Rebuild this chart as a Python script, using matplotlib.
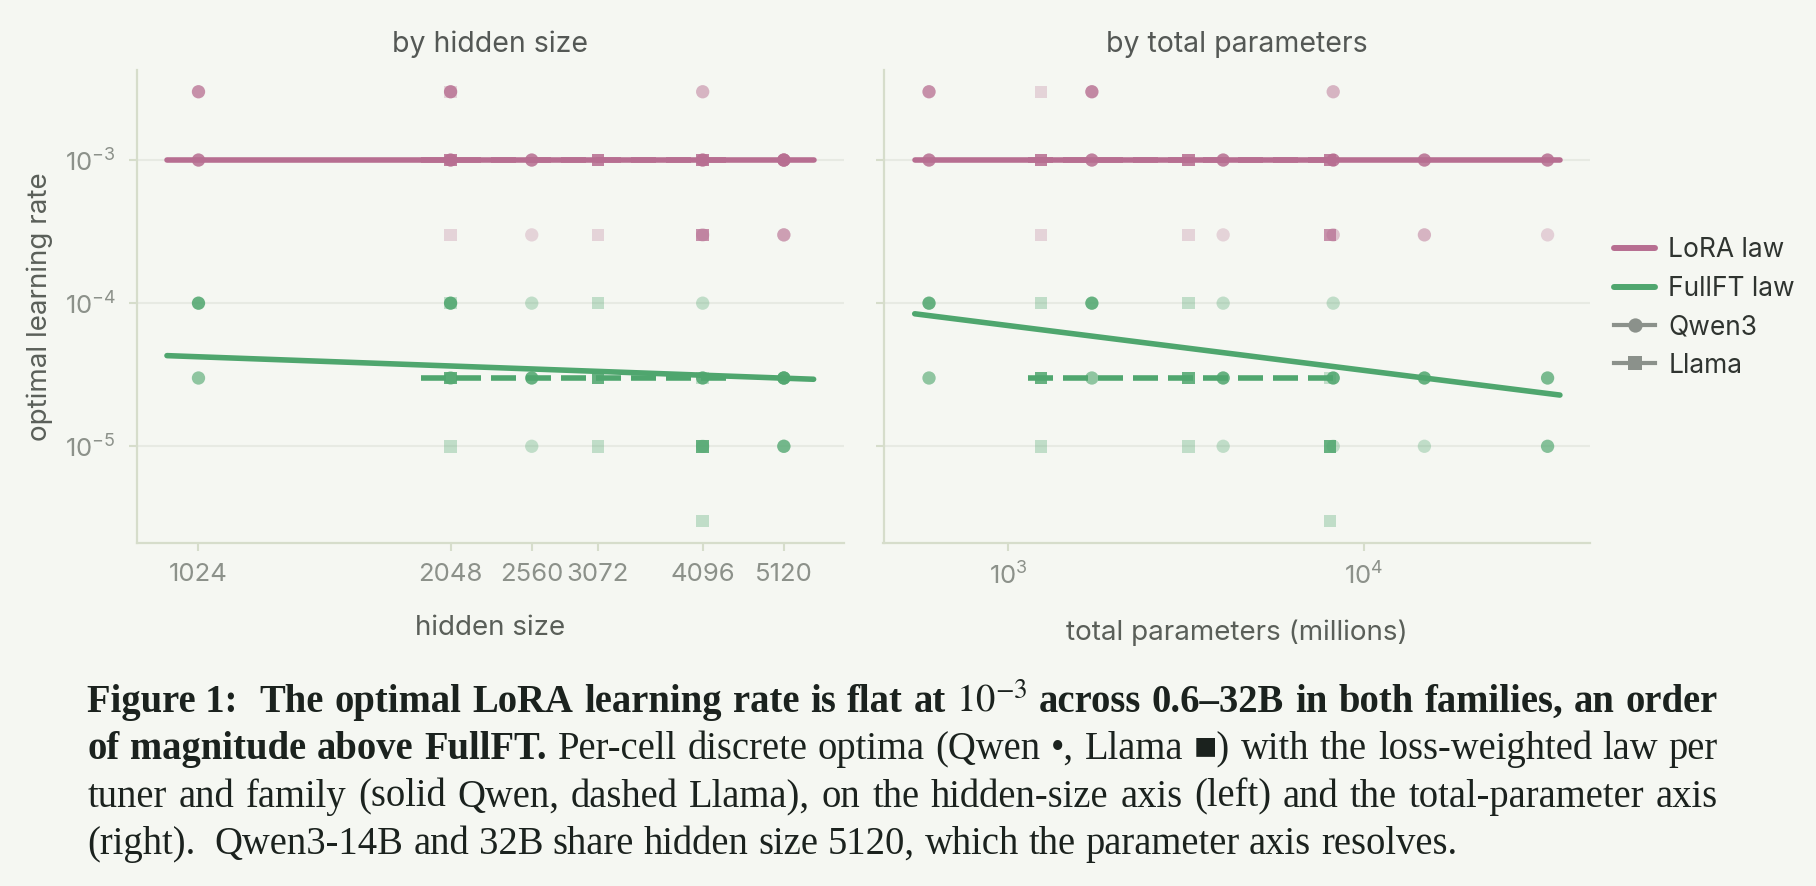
import matplotlib
matplotlib.use("Agg")
import matplotlib.pyplot as plt
from matplotlib.lines import Line2D
import numpy as np

# ---------------- data ----------------
qwen_hidden = [1024, 2048, 2560, 4096, 5120, 5120]
qwen_params = [600, 1720, 4020, 8190, 14770, 32760]      # millions
llama_hidden = [2048, 3072, 4096]
llama_params = [1236, 3213, 8030]                         # millions

# per-cell discrete optima: model index, learning rate, weight (share of cells)
qwen_lora_model = [0, 0, 1, 1, 2, 2, 3, 3, 3, 4, 4, 5, 5]
qwen_lora_lr    = [3e-3, 1e-3, 3e-3, 1e-3, 1e-3, 3e-4, 3e-3, 1e-3, 3e-4, 1e-3, 3e-4, 1e-3, 3e-4]
qwen_lora_w     = [0.80, 0.95, 0.88, 0.95, 0.95, 0.15, 0.45, 0.95, 0.30, 0.95, 0.45, 0.95, 0.18]

qwen_full_model = [0, 0, 1, 1, 2, 2, 2, 3, 3, 3, 4, 4, 5, 5]
qwen_full_lr    = [1e-4, 3e-5, 1e-4, 3e-5, 1e-4, 3e-5, 1e-5, 1e-4, 3e-5, 1e-5, 3e-5, 1e-5, 3e-5, 1e-5]
qwen_full_w     = [0.95, 0.62, 0.95, 0.62, 0.22, 0.95, 0.22, 0.22, 0.95, 0.22, 0.95, 0.22, 0.80, 0.70]

llama_lora_model = [0, 0, 0, 1, 1, 2, 2]
llama_lora_lr    = [3e-3, 1e-3, 3e-4, 1e-3, 3e-4, 1e-3, 3e-4]
llama_lora_w     = [0.15, 0.95, 0.15, 0.95, 0.15, 0.95, 0.78]

llama_full_model = [0, 0, 0, 1, 1, 1, 2, 2, 2]
llama_full_lr    = [1e-4, 3e-5, 1e-5, 1e-4, 3e-5, 1e-5, 3e-5, 1e-5, 3e-6]
llama_full_w     = [0.22, 0.95, 0.22, 0.22, 0.95, 0.22, 0.22, 0.95, 0.22]

# fitted laws (end points)
law_hidden_qwen_x = [939, 5557]
law_hidden_llama_x = [1890, 4380]
law_params_qwen_x = [547, 35480]
law_params_llama_x = [1140, 8500]
lora_law_qwen_hidden_y = [1e-3, 1e-3]
full_law_qwen_hidden_y = [4.3e-5, 2.94e-5]
lora_law_qwen_params_y = [1e-3, 1e-3]
full_law_qwen_params_y = [8.43e-5, 2.28e-5]
lora_law_llama_y = [1e-3, 1e-3]
full_law_llama_y = [3e-5, 3e-5]

hidden_ticks = [1024, 2048, 2560, 3072, 4096, 5120]
param_ticks = [1e3, 1e4]
param_ticklabels = [r"$10^{3}$", r"$10^{4}$"]
lr_ticks = [1e-3, 1e-4, 1e-5]
lr_ticklabels = [r"$10^{-3}$", r"$10^{-4}$", r"$10^{-5}$"]

# ---------------- style ----------------
BG = "#f5f7f2"
PINK = "#b76e91"
GREEN = "#4fa66e"
GRAY = "#8b918b"
SPINE = "#d6ddcb"
GRID = "#e7eae3"
TICKLAB = "#8c918a"
LABEL = "#5a5f59"

plt.rcParams["font.family"] = ["Inter", "DejaVu Sans"]
plt.rcParams["mathtext.fontset"] = "custom"
plt.rcParams["mathtext.rm"] = "Inter"
plt.rcParams["mathtext.it"] = "Inter:italic"
plt.rcParams["mathtext.bf"] = "Inter:bold"

W, H = 1816, 886
fig = plt.figure(figsize=(W / 100, H / 100), dpi=100, facecolor=BG)
ax1 = fig.add_axes([136.7 / W, 1 - 543 / H, (844 - 136.7) / W, (543 - 70.4) / H])
ax2 = fig.add_axes([883.5 / W, 1 - 543 / H, (1589.5 - 883.5) / W, (543 - 70.4) / H], sharey=ax1)

LW = 4.0
DASH = (4.5, 1.8)
TICKFS = 18.5
LABFS = 20


def draw_panel(ax, qx, lx, qlaw_x, llaw_x, lora_q_y, full_q_y):
    ax.set_facecolor(BG)
    ax.set_xscale("log")
    ax.set_yscale("log")
    ax.grid(axis="y", color=GRID, lw=1.5, zorder=0)
    ax.set_axisbelow(True)
    for s in ["top", "right"]:
        ax.spines[s].set_visible(False)
    for s in ["left", "bottom"]:
        ax.spines[s].set_color(SPINE)
        ax.spines[s].set_linewidth(1.6)

    # laws
    ax.plot(llaw_x, lora_law_llama_y, color=PINK, lw=LW, dashes=DASH, zorder=2)
    ax.plot(llaw_x, full_law_llama_y, color=GREEN, lw=LW, dashes=DASH, zorder=2)
    ax.plot(qlaw_x, lora_q_y, color=PINK, lw=LW, solid_capstyle="round", zorder=2)
    ax.plot(qlaw_x, full_q_y, color=GREEN, lw=LW, solid_capstyle="round", zorder=2)

    # points
    def pts(xs, models, lrs, ws, color, marker, size):
        x = [xs[m] for m in models]
        a = [0.15 + 0.75 * w for w in ws]
        cols = [matplotlib.colors.to_rgba(color, aa) for aa in a]
        ax.scatter(x, lrs, s=size, c=cols, marker=marker, linewidths=0, zorder=3)

    pts(lx, llama_lora_model, llama_lora_lr, llama_lora_w, PINK, "s", 80)
    pts(lx, llama_full_model, llama_full_lr, llama_full_w, GREEN, "s", 80)
    pts(qx, qwen_lora_model, qwen_lora_lr, qwen_lora_w, PINK, "o", 92)
    pts(qx, qwen_full_model, qwen_full_lr, qwen_full_w, GREEN, "o", 92)

    ax.tick_params(axis="both", which="major", length=6, width=1.5, color=SPINE,
                   labelcolor=TICKLAB, labelsize=TICKFS)
    ax.tick_params(axis="x", pad=8.3)
    ax.tick_params(axis="y", pad=9)
    ax.tick_params(which="minor", length=0)


draw_panel(ax1, qwen_hidden, llama_hidden, law_hidden_qwen_x, law_hidden_llama_x,
           lora_law_qwen_hidden_y, full_law_qwen_hidden_y)
draw_panel(ax2, qwen_params, llama_params, law_params_qwen_x, law_params_llama_x,
           lora_law_qwen_params_y, full_law_qwen_params_y)

ax1.set_xlim(864, 6041)
ax2.set_xlim(447, 42960)
ax1.set_ylim(2.11e-6, 4.23e-3)

ax1.set_xticks(hidden_ticks)
ax1.set_xticklabels([str(t) for t in hidden_ticks])
ax1.xaxis.set_minor_locator(matplotlib.ticker.NullLocator())
ax2.set_xticks(param_ticks)
ax2.set_xticklabels(param_ticklabels)
ax2.xaxis.set_minor_locator(matplotlib.ticker.NullLocator())
ax1.set_yticks(lr_ticks)
ax1.set_yticklabels(lr_ticklabels)
ax1.yaxis.set_minor_locator(matplotlib.ticker.NullLocator())
ax2.tick_params(axis="y", labelleft=False)

ax1.set_title("by hidden size", fontsize=20.5, color="#545855", pad=13)
ax2.set_title("by total parameters", fontsize=20.5, color="#545855", pad=13)
ax1.set_xlabel("hidden size", fontsize=LABFS, color=LABEL, labelpad=21)
ax2.set_xlabel("total parameters (millions)", fontsize=LABFS, color=LABEL, labelpad=21)
ax1.set_ylabel("optimal learning rate", fontsize=LABFS, color=LABEL, labelpad=8)

LEGFS = 19
handles = [
    Line2D([], [], color=PINK, lw=4.3, solid_capstyle="round"),
    Line2D([], [], color=GREEN, lw=4.3, solid_capstyle="round"),
    Line2D([], [], color=GRAY, lw=3, marker="o", markersize=10.3, markeredgewidth=0),
    Line2D([], [], color=GRAY, lw=3, marker="s", markersize=10.3, markeredgewidth=0),
]
labels = ["LoRA law", "FullFT law", "Qwen3", "Llama"]
fig.legend(handles, labels, loc="center left", bbox_to_anchor=(1613.7 / W, 1 - 308 / H),
           frameon=False, fontsize=LEGFS, handlelength=1.58, handletextpad=0.49,
           labelspacing=0.47, borderpad=0, borderaxespad=0, labelcolor="#2f3430")

# ---------------- caption (justified) ----------------
CAP_COLOR = "#1b221e"
SERIF = ["Liberation Serif", "DejaVu Serif"]
cap_lines = [
    [("Figure 1:", "bold"), ("", "bold"), ("The", "bold"), ("optimal", "bold"), ("LoRA", "bold"),
     ("learning", "bold"), ("rate", "bold"), ("is", "bold"), ("flat", "bold"), ("at", "bold"),
     (r"$10^{-3}$", "bold"), ("across", "bold"), ("0.6–32B", "bold"), ("in", "bold"),
     ("both", "bold"), ("families,", "bold"), ("an", "bold"), ("order", "bold")],
    [("of", "bold"), ("magnitude", "bold"), ("above", "bold"), ("FullFT.", "bold"),
     ("Per-cell", "normal"), ("discrete", "normal"), ("optima", "normal"), ("(Qwen", "normal"),
     ("•,", "normal"), ("Llama", "normal"), ("■)", "normal"), ("with", "normal"), ("the", "normal"),
     ("loss-weighted", "normal"), ("law", "normal"), ("per", "normal")],
    [(w, "normal") for w in "tuner and family (solid Qwen, dashed Llama), on the hidden-size axis (left) and the total-parameter axis".split(" ")],
    [(w, "normal") for w in "(right).  Qwen3-14B and 32B share hidden size 5120, which the parameter axis resolves.".split(" ")],
]
baselines = [711.7, 759.0, 806.7, 854.0]
x_left, x_right = 87.3, 1718.0

renderer = fig.canvas.get_renderer()


def measure(s, fs, weight):
    if s == "":
        return 0.0
    t = fig.text(0, 0, s, fontsize=fs, family=SERIF, fontweight=weight, math_fontfamily="stix")
    w = t.get_window_extent(renderer).width
    t.remove()
    return w


def space_w(fs, weight):
    return measure("a a", fs, weight) - measure("aa", fs, weight)


base_fs = 25.0
nat = sum(measure(w, base_fs, wt) for w, wt in cap_lines[2]) + space_w(base_fs, "normal") * (len(cap_lines[2]) - 1)
FS = base_fs * (x_right - x_left) / nat * 0.985

for i, (line, yb) in enumerate(zip(cap_lines, baselines)):
    widths = [measure(w, FS, wt) for w, wt in line]
    n = len(line)
    if i < 3:
        gap = ((x_right - x_left) - sum(widths)) / (n - 1)
    else:
        gap = space_w(FS, "normal")
    x = x_left
    for (w, wt), wd in zip(line, widths):
        if w:
            fig.text(x / W, 1 - yb / H, w, fontsize=FS, family=SERIF, fontweight=wt,
                     color=CAP_COLOR, va="baseline", ha="left", math_fontfamily="stix")
        x += wd + gap

fig.savefig("out.png", dpi=100, facecolor=BG)
